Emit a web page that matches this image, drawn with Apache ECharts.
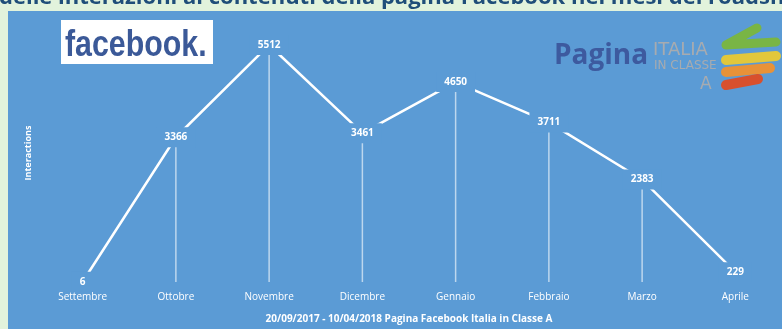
<!DOCTYPE html>
<html>
<head>
<meta charset="utf-8">
<script src="https://cdn.jsdelivr.net/npm/echarts@6/dist/echarts.min.js"></script>
<style>
  html, body { margin: 0; padding: 0; background: #e2f3dc; }
  #chart { width: 782px; height: 329px; }
</style>
</head>
<body>
<div id="chart"></div>
<script>
// Monthly interactions with the page's content
const months = ['Settembre', 'Ottobre', 'Novembre', 'Dicembre', 'Gennaio', 'Febbraio', 'Marzo', 'Aprile'];
const interactions = [6, 3366, 5512, 3461, 4650, 3711, 2383, 229];
const titleText = 'delle interazioni ai contenuti della pagina Facebook nei mesi del roadshow';
const xAxisTitle = '20/09/2017 - 10/04/2018 Pagina Facebook Italia in Classe A';
const yAxisTitle = 'Interactions';

const PANEL = '#5b9bd5';
const FONT = '"Open Sans", "Liberation Sans", sans-serif';
const LOGO_GREY = '#a7abb0';

const chart = echarts.init(document.getElementById('chart'), null, { renderer: 'canvas' });

chart.setOption({
  animation: false,
  backgroundColor: '#e2f3dc',
  grid: { left: 36, right: 0, top: 24, bottom: 46 },
  xAxis: {
    type: 'category',
    data: months,
    boundaryGap: true,
    axisLine: { show: false },
    axisTick: { show: false },
    splitLine: { show: false },
    axisLabel: { color: '#ffffff', fontFamily: FONT, fontSize: 10, margin: 10 },
    name: xAxisTitle,
    nameLocation: 'middle',
    nameGap: 32,
    nameTextStyle: { color: '#ffffff', fontFamily: FONT, fontSize: 10, fontWeight: 'bold' }
  },
  yAxis: {
    type: 'value',
    min: 0,
    max: 6000,
    axisLine: { show: false },
    axisTick: { show: false },
    axisLabel: { show: false },
    splitLine: { show: false },
    name: yAxisTitle,
    nameLocation: 'middle',
    nameGap: 3,
    nameRotate: 90,
    nameTextStyle: { color: '#ffffff', fontFamily: FONT, fontSize: 9, fontWeight: 'bold' }
  },
  graphic: [
    // blue chart panel
    { type: 'rect', z: -10, silent: true, shape: { x: 8, y: 11, width: 780, height: 320 }, style: { fill: PANEL } },
    // heading, clipped by the top edge
    { type: 'text', z: -5, x: -1, y: -13, style: { text: titleText, fill: '#1f4e79', font: 'bold 22px ' + FONT, verticalAlign: 'top' } },
    // facebook wordmark
    { type: 'rect', z: 10, shape: { x: 61, y: 20, width: 152, height: 44 }, style: { fill: '#ffffff' } },
    { type: 'text', z: 11, x: 65, y: 27, scaleX: 0.82, originX: 0, originY: 0,
      style: { text: 'facebook.', fill: '#3b5998', font: 'bold 37px "Liberation Sans", sans-serif', verticalAlign: 'top' } },
    // "Pagina Italia in Classe A" mark
    { type: 'text', z: 11, x: 554, y: 42, style: { text: 'Pagina', fill: '#3d5a9f', font: 'bold 28px ' + FONT, verticalAlign: 'top' } },
    { type: 'text', z: 11, x: 653, y: 41, style: { text: 'ITALIA', fill: LOGO_GREY, font: '18px "DejaVu Sans", sans-serif', verticalAlign: 'top' } },
    { type: 'text', z: 11, x: 654, y: 60, style: { text: 'IN CLASSE', fill: LOGO_GREY, font: '12px "DejaVu Sans", sans-serif', verticalAlign: 'top' } },
    { type: 'text', z: 11, x: 700, y: 76, style: { text: 'A', fill: LOGO_GREY, font: '17px "DejaVu Sans", sans-serif', verticalAlign: 'top' } },
    { type: 'polyline', z: 11, shape: { points: [[757, 28], [726, 45], [776, 42]] }, style: { stroke: '#79b545', lineWidth: 9, lineCap: 'round', lineJoin: 'round', fill: null } },
    { type: 'line', z: 11, shape: { x1: 726, y1: 60, x2: 776, y2: 56 }, style: { stroke: '#e2c73b', lineWidth: 10, lineCap: 'round' } },
    { type: 'line', z: 11, shape: { x1: 726, y1: 72, x2: 770, y2: 68 }, style: { stroke: '#e89238', lineWidth: 10, lineCap: 'round' } },
    { type: 'line', z: 11, shape: { x1: 726, y1: 85, x2: 758, y2: 79 }, style: { stroke: '#d8502d', lineWidth: 10, lineCap: 'round' } }
  ],
  series: [
    {
      // drop lines from each point down to the baseline
      type: 'bar',
      data: interactions,
      barWidth: 1.5,
      z: 1,
      itemStyle: { color: 'rgba(255,255,255,0.6)' },
      silent: true
    },
    {
      type: 'line',
      data: interactions,
      z: 3,
      symbol: 'circle',
      symbolSize: 1,
      showSymbol: true,
      itemStyle: { color: PANEL },
      lineStyle: { color: '#ffffff', width: 2.5 },
      label: {
        show: true,
        position: 'inside',
        color: '#ffffff',
        fontFamily: FONT,
        fontSize: 10,
        fontWeight: 'bold',
        backgroundColor: PANEL,
        padding: [5, 8]
      }
    }
  ]
});
</script>
</body>
</html>
